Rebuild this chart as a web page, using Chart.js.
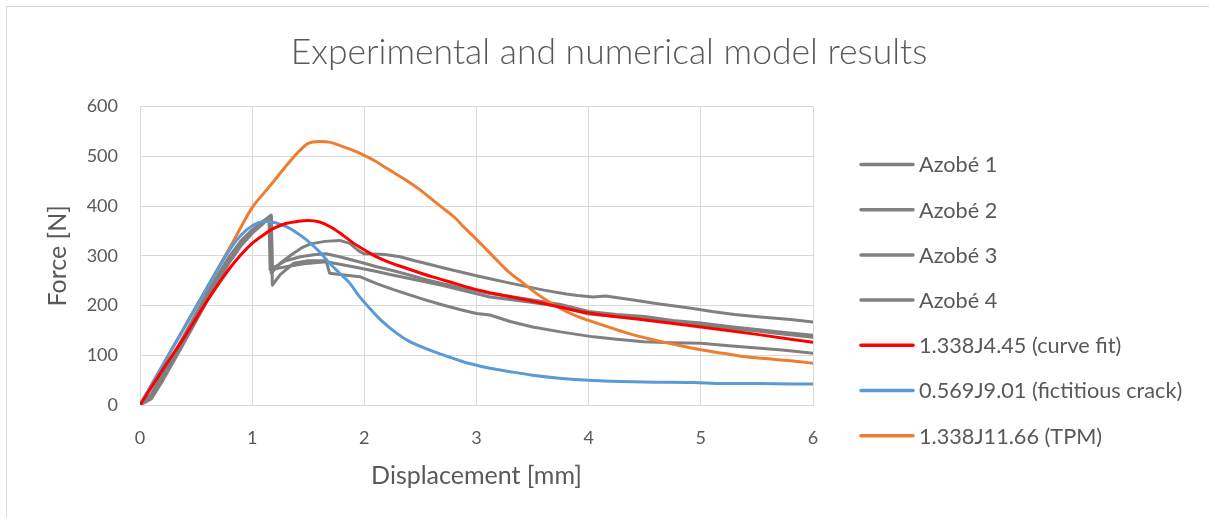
<!DOCTYPE html>
<html>
<head>
<meta charset="utf-8">
<script src="https://cdn.jsdelivr.net/npm/chart.js@4/dist/chart.umd.min.js"></script>
<style>
  html, body { margin: 0; padding: 0; background: #fff; overflow: hidden; }
  #wrap { position: relative; width: 1209px; height: 518px; }
  #frame { position: absolute; left: 6px; top: 6px; width: 1400px; height: 700px; border: 1px solid #d9d9d9; box-sizing: border-box; }
  canvas { position: absolute; left: 0; top: 0; }
</style>
</head>
<body>
<div id="wrap">
  <div id="frame"></div>
  <canvas id="c" width="1209" height="518"></canvas>
</div>
<script>
const chartTitle = "Experimental and numerical model results";
const xAxisTitle = "Displacement [mm]";
const yAxisTitle = "Force [N]";
const seriesNames = ["Azobé 1", "Azobé 2", "Azobé 3", "Azobé 4",
  "1.338J4.45 (curve fit)", "0.569J9.01 (fictitious crack)", "1.338J11.66 (TPM)"];
const xTicks = [0, 1, 2, 3, 4, 5, 6];
const yTicks = [0, 100, 200, 300, 400, 500, 600];

const azobe1X = [0,0.1,0.2,0.3,0.4,0.5,0.6,0.7,0.8,0.9,1.0,1.1,1.16,1.17,1.25,1.35,1.45,1.52,1.65,1.78,1.87,1.95,2.0,2.14,2.2,2.32,2.45,2.56,2.7,2.85,3.0,3.12,3.3,3.45,3.6,3.8,3.9,4.04,4.15,4.4,4.6,4.8,4.93,5.1,5.3,5.53,5.8,6.0];
const azobe1Y = [0,22,62,102,143,184,225,264,300,330,352,370,380,265,285,302,317,324,329,331,325,310,304,303,302,298,290,284,276,268,260,254,245,238,231,223,220,217,219,211,204,198,194,188,182,177,172,167];

const azobe2X = [0,0.1,0.2,0.3,0.4,0.5,0.6,0.7,0.8,0.9,1.0,1.1,1.17,1.18,1.3,1.43,1.55,1.66,1.78,1.9,2.0,2.11,2.26,2.41,2.55,2.7,2.9,3.12,3.3,3.5,3.75,4.0,4.25,4.5,4.75,5.0,5.25,5.5,5.75,6.0];
const azobe2Y = [0,15,52,92,133,174,215,255,292,324,348,368,378,275,290,298,302,304,298,291,285,278,270,261,252,244,234,224,218,211,202,188,182,178,170,165,158,152,146,140];

const azobe3X = [0,0.1,0.2,0.3,0.4,0.5,0.6,0.7,0.8,0.9,1.0,1.1,1.15,1.16,1.3,1.46,1.66,1.9,2.1,2.26,2.5,2.7,2.9,3.12,3.3,3.5,3.75,4.0,4.25,4.5,4.75,5.0,5.25,5.5,5.75,6.0];
const azobe3Y = [0,18,57,97,138,178,219,259,295,326,350,367,375,272,278,284,288,278,269,261,250,240,229,217,212,206,198,183,178,174,166,160,154,149,142,136];

const azobe4X = [0,0.1,0.2,0.3,0.4,0.5,0.6,0.7,0.8,0.9,1.0,1.1,1.17,1.18,1.25,1.37,1.5,1.66,1.69,1.8,1.96,2.11,2.26,2.41,2.55,2.7,2.85,3.0,3.12,3.3,3.5,3.75,4.04,4.25,4.49,4.75,5.0,5.25,5.53,5.75,6.0];
const azobe4Y = [0,12,48,88,128,169,210,250,288,320,345,365,382,241,262,285,290,290,265,262,258,244,232,221,211,201,192,184,181,168,157,147,137,132,127,125,124,119,114,110,104];

const curveFitX = [0,0.2,0.4,0.6,0.8,0.9,1.0,1.1,1.2,1.3,1.4,1.5,1.6,1.7,1.8,1.9,2.0,2.1,2.2,2.4,2.6,2.8,3.0,3.2,3.4,3.6,3.8,4.0,4.5,5.0,5.5,6.0];
const curveFitY = [0,70,138,210,275,302,325,342,356,365,369,371,368,358,343,326,312,299,289,273,258,245,232,222,213,204,194,185,171,157,142,126];

const crackX = [0,0.2,0.4,0.6,0.76,0.85,0.95,1.05,1.13,1.2,1.31,1.4,1.49,1.6,1.69,1.78,1.87,1.95,2.05,2.15,2.29,2.4,2.59,2.75,2.88,3.0,3.12,3.3,3.5,3.74,4.0,4.19,4.5,4.93,5.2,5.5,6.0];
const crackY = [0,79,158,237,298,328,352,366,369,367,358,346,331,308,285,265,245,220,194,170,144,128,110,97,87,80,74,67,60,54,50,48,46,45,43,43,42];

const tpmX = [0,0.2,0.4,0.6,0.8,1.0,1.1,1.2,1.3,1.4,1.5,1.6,1.7,1.8,1.9,2.0,2.1,2.2,2.3,2.4,2.5,2.6,2.7,2.8,2.9,3.0,3.1,3.2,3.3,3.4,3.5,3.6,3.7,3.8,3.9,4.0,4.2,4.4,4.6,4.8,5.0,5.2,5.4,5.6,5.8,6.0];
const tpmY = [0,79,158,237,316,397,425,452,480,506,526,530,528,520,512,502,490,476,462,448,432,414,396,378,355,333,310,287,265,248,230,214,200,188,178,170,155,141,130,120,111,104,97,93,89,84];

const GRAY = "#808080", RED = "#ff0000", BLUE = "#5b9bd5", ORANGE = "#ed7d31";
const TXT = "#595959";
const FONT = "Lato, 'Open Sans', sans-serif";

function pts(xs, ys) { return xs.map((x, i) => ({ x: x, y: ys[i] })); }
function ds(label, xs, ys, color, smooth) {
  return {
    label: label, data: pts(xs, ys), borderColor: color, backgroundColor: color,
    borderWidth: 3, pointRadius: 0, pointHoverRadius: 0, fill: false,
    tension: 0, cubicInterpolationMode: smooth ? 'monotone' : 'default',
    borderJoinStyle: 'round', borderCapStyle: 'round', yAxisID: 'y'
  };
}

const datasets = [
  ds(seriesNames[0], azobe1X, azobe1Y, GRAY, false),
  ds(seriesNames[1], azobe2X, azobe2Y, GRAY, false),
  ds(seriesNames[2], azobe3X, azobe3Y, GRAY, false),
  ds(seriesNames[3], azobe4X, azobe4Y, GRAY, false),
  ds(seriesNames[4], curveFitX, curveFitY, RED, true),
  ds(seriesNames[5], crackX, crackY, BLUE, true),
  ds(seriesNames[6], tpmX, tpmY, ORANGE, true)
];
datasets[0].order = 7; datasets[1].order = 6; datasets[2].order = 5; datasets[3].order = 4;
datasets[4].order = 1; datasets[5].order = 2; datasets[6].order = 3;

// Excel-style legend drawn beside the plot area, from the chart's own datasets
const sideLegend = {
  id: 'sideLegend',
  afterDraw(chart, args, opts) {
    const ctx = chart.ctx;
    const x0 = chart.chartArea.right + opts.gap;
    ctx.save();
    ctx.font = opts.font;
    ctx.fillStyle = opts.color;
    ctx.textBaseline = 'middle';
    ctx.textAlign = 'left';
    chart.data.datasets.forEach((d, i) => {
      const y = opts.top + i * opts.step;
      ctx.strokeStyle = d.borderColor;
      ctx.lineWidth = opts.lineWidth;
      ctx.lineCap = 'round';
      ctx.beginPath();
      ctx.moveTo(x0, y);
      ctx.lineTo(x0 + opts.lineLength, y);
      ctx.stroke();
      ctx.fillText(d.label, x0 + opts.lineLength + opts.textGap, y + 1);
    });
    ctx.restore();
  }
};

new Chart(document.getElementById('c'), {
  type: 'line',
  data: { datasets: datasets },
  plugins: [sideLegend],
  options: {
    responsive: false,
    animation: false,
    devicePixelRatio: 1,
    layout: { padding: { left: 9, right: 0, top: 0, bottom: 0 } },
    plugins: {
      tooltip: { enabled: false },
      legend: { display: false },
      sideLegend: {
        gap: 48, top: 164.5, step: 45.2, lineLength: 52, textGap: 6, lineWidth: 3.5,
        font: "21.7px Lato, 'Open Sans', sans-serif", color: TXT
      },
      title: {
        display: true, text: chartTitle, color: TXT,
        font: { family: FONT, size: 35.5, weight: '300' },
        padding: { top: 31, bottom: 33 }
      }
    },
    scales: {
      x: {
        type: 'linear', min: 0, max: 6,
        afterBuildTicks: s => { s.ticks = xTicks.map(v => ({ value: v })); },
        afterFit: s => { s.height = 113; },
        grid: { color: '#d9d9d9', lineWidth: 1, drawTicks: false },
        border: { color: '#d9d9d9', width: 1 },
        ticks: { color: TXT, font: { family: FONT, size: 18 }, padding: 22, maxRotation: 0 },
        title: { display: true, text: xAxisTitle, color: TXT, font: { family: FONT, size: 25 }, padding: { top: 27, bottom: 27 } }
      },
      y: {
        type: 'linear', position: 'left', min: 0, max: 600,
        afterBuildTicks: s => { s.ticks = yTicks.map(v => ({ value: v })); },
        afterFit: s => { s.width = 131; },
        grid: { color: '#d9d9d9', lineWidth: 1, drawTicks: false },
        border: { color: '#d9d9d9', width: 1 },
        ticks: { color: TXT, font: { family: FONT, size: 18 }, padding: 22 },
        title: { display: true, text: yAxisTitle, color: TXT, font: { family: FONT, size: 25 }, padding: { top: 34, bottom: 34 } }
      },
      legendSpace: {
        type: 'linear', position: 'right', min: 0, max: 600,
        afterFit: s => { s.width = 396; },
        grid: { display: false, drawOnChartArea: false },
        border: { display: false },
        ticks: { display: false },
        title: { display: false }
      }
    }
  }
});
</script>
</body>
</html>
